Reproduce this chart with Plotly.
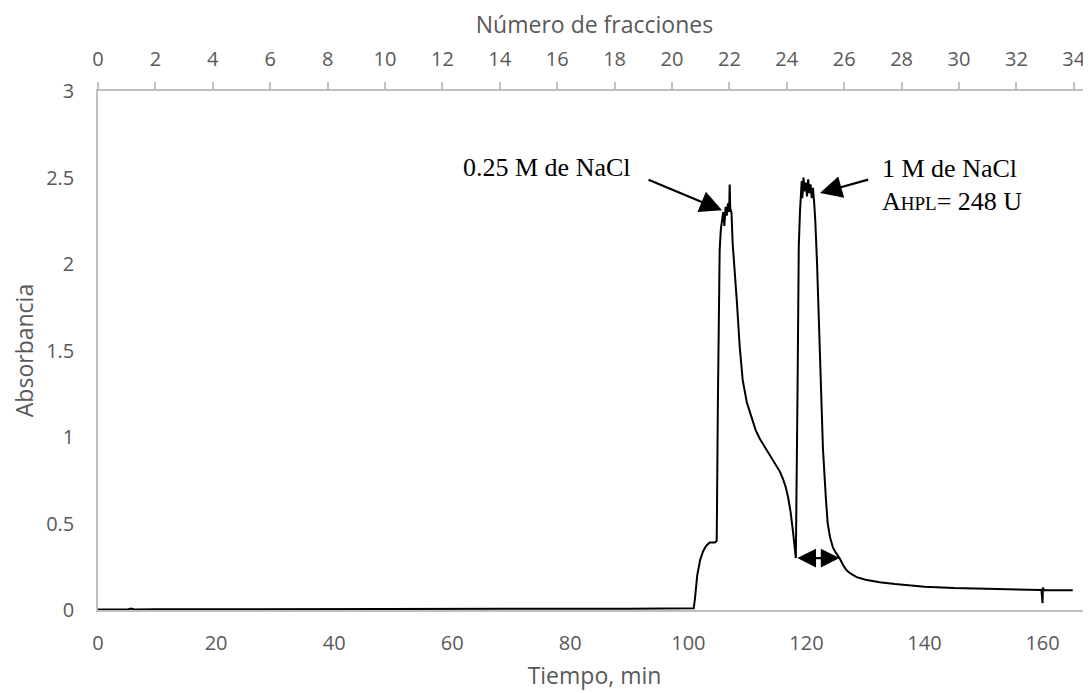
import plotly.graph_objects as go

# --- data ---
time_min = [0, 2, 5, 5.6, 6.2, 10, 20, 30, 40, 50, 60, 70, 80, 90, 100, 100.9,
            101.1, 101.5, 102, 102.5, 103, 103.6, 104.5, 104.8, 105.0, 105.3,
            105.5, 105.7, 105.9, 106.1, 106.3, 106.5, 106.7, 106.9, 107.0,
            107.1, 107.3, 107.5, 107.8, 108.2, 108.7, 109.2, 109.9, 110.7,
            111.4, 112.1, 112.8, 113.5, 114.3, 115.0, 115.5, 116.0, 116.5,
            116.9, 117.3, 117.7, 118.0, 118.2, 118.5, 118.7, 118.9, 119.0,
            119.2, 119.3, 119.5, 119.7, 119.9, 120.1, 120.3, 120.5, 120.7,
            120.9, 121.1, 121.3, 121.5, 121.8, 122.3, 122.8, 123.3, 123.6,
            124.0, 124.5, 125.0, 125.6, 126.2, 126.8, 127.5, 128.5, 130,
            132.4, 135, 140, 145, 150, 155, 159.8, 160.0, 160.05, 160.2, 165.1]
absorbance = [0.003, 0.002, 0.003, 0.008, 0.003, 0.004, 0.005, 0.005, 0.006,
              0.006, 0.006, 0.007, 0.007, 0.007, 0.008, 0.01,
              0.06, 0.2, 0.29, 0.34, 0.37, 0.39, 0.39, 0.40, 1.2, 2.08,
              2.2, 2.25, 2.3, 2.22, 2.33, 2.28, 2.35, 2.3, 2.46,
              2.32, 2.3, 2.12, 2.0, 1.79, 1.52, 1.33, 1.2, 1.11,
              1.04, 0.99, 0.95, 0.91, 0.87, 0.83, 0.8, 0.76, 0.71,
              0.65, 0.57, 0.46, 0.37, 0.30, 1.3, 2.1, 2.3, 2.40,
              2.48, 2.38, 2.50, 2.42, 2.47, 2.39, 2.49, 2.41, 2.46,
              2.38, 2.44, 2.36, 2.25, 2.0, 1.5, 0.93, 0.64, 0.5,
              0.42, 0.36, 0.33, 0.30, 0.26, 0.23, 0.21, 0.19, 0.175,
              0.16, 0.15, 0.135, 0.127, 0.122, 0.118, 0.116, 0.04, 0.13, 0.116, 0.114]

y_ticks = [0, 0.5, 1, 1.5, 2, 2.5, 3]
time_ticks = [0, 20, 40, 60, 80, 100, 120, 140, 160]
fraction_ticks = list(range(0, 35, 2))

time_range = [0, 168.2]
fraction_range = [0, 34.6]

label_low = "0.25 M de NaCl"
label_high_1 = "1 M de NaCl"
label_high_2 = "A<span style='font-size:19px'>HPL</span>= 248 U"

AXIS_GRAY = "#BFBFBF"
TEXT_GRAY = "#595959"
SANS = "Open Sans"
SERIF = "Liberation Serif, Times New Roman, serif"

fig = go.Figure()
fig.add_trace(go.Scatter(
    x=time_min, y=absorbance, mode="lines",
    line=dict(color="black", width=2), showlegend=False, hoverinfo="x+y"))
# invisible trace to create the secondary (top) axis
fig.add_trace(go.Scatter(
    x=fraction_ticks, y=[None] * len(fraction_ticks), xaxis="x2",
    mode="lines", showlegend=False, hoverinfo="skip"))

# the page body adds an 8px offset, so the figure is 8px smaller
fig.update_layout(
    width=1083, height=685,
    margin=dict(l=90, r=0, t=83, b=83, autoexpand=False),
    paper_bgcolor="white", plot_bgcolor="white",
    font=dict(family=SANS, color=TEXT_GRAY, size=20),
    xaxis=dict(
        range=time_range, tickvals=time_ticks, showgrid=False, zeroline=False,
        showline=True, linecolor=AXIS_GRAY, linewidth=1.5, ticks="",
        ticklabelstandoff=14, automargin=False,
        tickfont=dict(family=SANS, size=20, color=TEXT_GRAY),
        title=dict(text="Tiempo, min", standoff=13,
                   font=dict(family=SANS, size=23, color=TEXT_GRAY)),
    ),
    xaxis2=dict(
        range=fraction_range, tickvals=fraction_ticks, overlaying="x",
        side="top", anchor="y", showgrid=False, zeroline=False,
        showline=True, linecolor=AXIS_GRAY, linewidth=1.5,
        ticks="outside", ticklen=7, tickcolor=AXIS_GRAY, tickwidth=1.5,
        ticklabelstandoff=8, automargin=False,
        tickfont=dict(family=SANS, size=20, color=TEXT_GRAY),
        title=dict(text="Número de fracciones", standoff=8,
                   font=dict(family=SANS, size=23, color=TEXT_GRAY)),
    ),
    yaxis=dict(
        range=[0, 3], tickvals=y_ticks, showgrid=False, zeroline=False,
        showline=True, linecolor=AXIS_GRAY, linewidth=1.5, ticks="",
        ticklabelstandoff=18, automargin=False,
        tickfont=dict(family=SANS, size=20, color=TEXT_GRAY),
        title=dict(text="Absorbancia", standoff=9,
                   font=dict(family=SANS, size=23, color=TEXT_GRAY)),
    ),
)

serif_font = dict(family=SERIF, size=26, color="black")
fig.add_annotation(x=76.1, y=2.555, xref="x", yref="y", text=label_low,
                   showarrow=False, xanchor="center", yanchor="middle",
                   font=serif_font)
fig.add_annotation(x=132.4, y=2.55, xref="x", yref="y", text=label_high_1,
                   showarrow=False, xanchor="left", yanchor="middle",
                   font=serif_font)
fig.add_annotation(x=132.4, y=2.36, xref="x", yref="y", text=label_high_2,
                   showarrow=False, xanchor="left", yanchor="middle",
                   font=serif_font)

arrow_style = dict(xref="x", yref="y", axref="x", ayref="y", text="",
                   showarrow=True, arrowhead=2, arrowsize=2.0,
                   arrowwidth=2.2, arrowcolor="black")
fig.add_annotation(x=105.7, y=2.31, ax=93.0, ay=2.49, **arrow_style)
fig.add_annotation(x=122.3, y=2.41, ax=130.7, ay=2.49, **arrow_style)
fig.add_annotation(x=125.6, y=0.30, ax=118.2, ay=0.30, arrowside="end+start",
                   **dict(arrow_style, arrowsize=1.7))

fig.write_html("out.html")
